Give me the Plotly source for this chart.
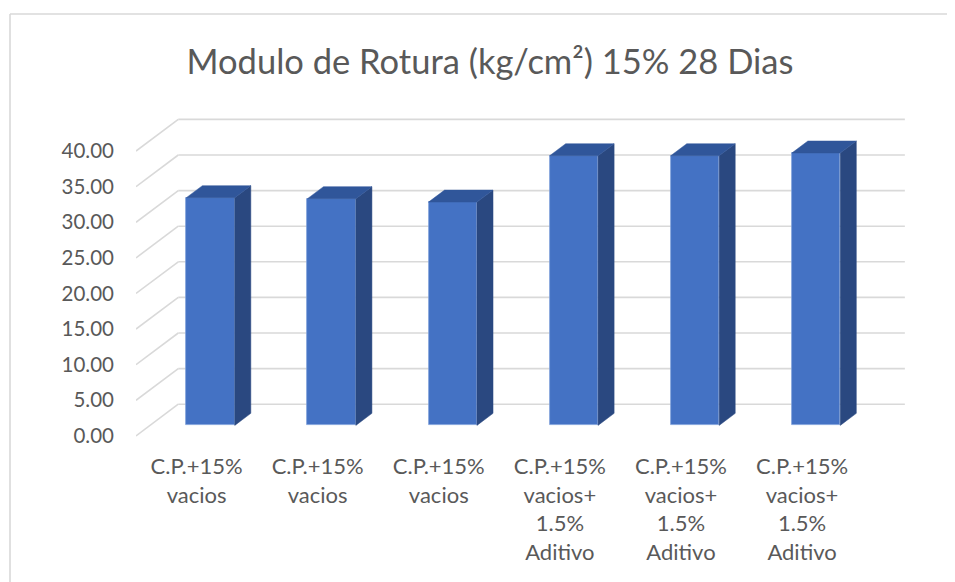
import plotly.graph_objects as go

# ---------------- data ----------------
categories = [
    "C.P.+15%<br>vacios",
    "C.P.+15%<br>vacios",
    "C.P.+15%<br>vacios",
    "C.P.+15%<br>vacios+<br>1.5%<br>Aditivo",
    "C.P.+15%<br>vacios+<br>1.5%<br>Aditivo",
    "C.P.+15%<br>vacios+<br>1.5%<br>Aditivo",
]
values = [31.98, 31.84, 31.36, 37.87, 37.87, 38.25]
y_ticks = [0, 5, 10, 15, 20, 25, 30, 35, 40]
y_ticktext = ["%.2f" % v for v in y_ticks]
title_text = "Modulo de Rotura (kg/cm²) 15% 28 Dias"

# ---------------- 3D (oblique) geometry in data units ----------------
WALL_DX = 0.349   # depth offset of back wall, category units
WALL_DY = 4.45    # depth offset of back wall, value units
BAR_F = 0.331     # depth fraction of bar front plane
BAR_D = 0.38      # depth fraction of bar thickness
BAR_W = 0.40

FRONT = "#4472C4"
SIDE = "#2A4880"
TOP = "#30569A"
GRID = "#D9D9D9"
TEXT = "#595959"
FONT = "Lato, 'Open Sans', sans-serif"

n = len(values)
idx = list(range(n))

fig = go.Figure()

shapes = []
# gridlines: left diagonal + back wall line (drawn below the bars)
for v in y_ticks:
    shapes.append(dict(type="line", xref="x", yref="y", layer="below",
                       x0=-0.5, y0=v, x1=-0.5 + WALL_DX, y1=v + WALL_DY,
                       line=dict(color=GRID, width=1.6)))
    shapes.append(dict(type="line", xref="x", yref="y", layer="below",
                       x0=-0.5 + WALL_DX, y0=v + WALL_DY,
                       x1=n - 0.5 + WALL_DX, y1=v + WALL_DY,
                       line=dict(color=GRID, width=1.6)))

bx_shift = BAR_F * WALL_DX
by_base = BAR_F * WALL_DY
ddx = BAR_D * WALL_DX
ddy = BAR_D * WALL_DY

# side faces and top faces
for i, v in zip(idx, values):
    xc = i + bx_shift
    xl, xr = xc - BAR_W / 2, xc + BAR_W / 2
    b, t = by_base, by_base + v
    fig.add_trace(go.Scatter(
        x=[xr, xr + ddx, xr + ddx, xr, xr],
        y=[b, b + ddy, t + ddy, t, b],
        mode="lines", fill="toself", fillcolor=SIDE,
        line=dict(color=SIDE, width=0.5),
        hoverinfo="skip", showlegend=False))
    fig.add_trace(go.Scatter(
        x=[xl, xl + ddx, xr + ddx, xr, xl],
        y=[t, t + ddy, t + ddy, t, t],
        mode="lines", fill="toself", fillcolor=TOP,
        line=dict(color=TOP, width=0.5),
        hoverinfo="skip", showlegend=False))

# front faces
fig.add_trace(go.Bar(
    x=[i + bx_shift for i in idx], y=values, base=by_base, width=BAR_W,
    marker=dict(color=FRONT, line=dict(color="#7FA0DA", width=0.8)),
    showlegend=False, hoverinfo="y"))

# page body has an 8px margin -> figure drawn 8px in from window corner
OFF = 8
W, H = 955 - OFF, 582 - OFF
L, T = 136 - OFF, 111 - OFF
pw, ph = 775, 332
R, B = W - L - pw, H - T - ph
x_px = 121.1
y_px = 7.12
x0 = -0.5
y0 = -1.0

# chart frame (only top and left edges visible in the window)
shapes.append(dict(type="line", xref="paper", yref="paper",
                   x0=-(L - (10 - OFF)) / pw, x1=1 + (R + 30) / pw,
                   y0=1 + (T - (14 - OFF)) / ph, y1=1 + (T - (14 - OFF)) / ph,
                   line=dict(color=GRID, width=1.6), layer="below"))
shapes.append(dict(type="line", xref="paper", yref="paper",
                   x0=-(L - (10 - OFF)) / pw, x1=-(L - (10 - OFF)) / pw,
                   y0=-(B + 30) / ph, y1=1 + (T - (14 - OFF)) / ph,
                   line=dict(color=GRID, width=1.6), layer="below"))

fig.update_layout(
    width=W, height=H,
    margin=dict(l=L, r=R, t=T, b=B, autoexpand=False),
    paper_bgcolor="white", plot_bgcolor="white",
    font=dict(family=FONT, color=TEXT),
    title=dict(text=title_text, x=(490 - OFF) / W, xanchor="center",
               y=1 - (62 - OFF) / H, yanchor="middle",
               font=dict(family=FONT, size=34.5, color=TEXT)),
    xaxis=dict(range=[x0, x0 + pw / x_px], showgrid=False, zeroline=False,
               showline=False, ticks="", tickmode="array", tickvals=idx,
               ticktext=categories, tickfont=dict(size=22, color=TEXT),
               tickangle=0, ticklabelstandoff=8, automargin=False),
    yaxis=dict(range=[y0, y0 + ph / y_px], showgrid=False, zeroline=False,
               showline=False, ticks="", tickmode="array", tickvals=y_ticks,
               ticktext=y_ticktext, tickfont=dict(size=20.5, color=TEXT),
               ticklabelstandoff=21, automargin=False),
    bargap=0,
    shapes=shapes,
)

fig.write_html("out.html")
